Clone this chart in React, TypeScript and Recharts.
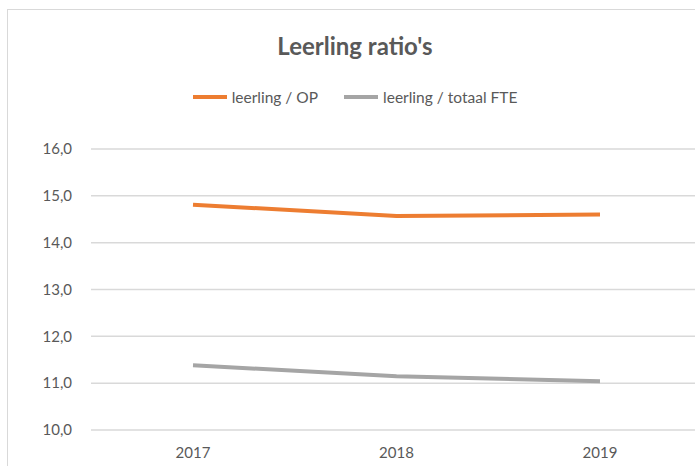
import { LineChart, Line, XAxis, YAxis, CartesianGrid, Legend } from 'recharts';

const years = ['2017', '2018', '2019'];
const leerlingOp = [14.81, 14.57, 14.6];
const leerlingFte = [11.38, 11.15, 11.04];
const yTicks = [10, 11, 12, 13, 14, 15, 16];

const data = years.map((year, i) => ({
  year,
  op: leerlingOp[i],
  fte: leerlingFte[i],
}));

const FONT = 'Lato, "Open Sans", sans-serif';
const TEXT = '#595959';
const TICK_STYLE = { fill: TEXT, fontSize: 15, fontFamily: FONT };

const fmt = (v: number) => v.toFixed(1).replace('.', ',');

function ChartLegend({ payload }: { payload?: { value: string; color: string }[] }) {
  return (
    <div style={{ display: 'flex', justifyContent: 'center', gap: 26, fontFamily: FONT, fontSize: 15.5, color: TEXT }}>
      {(payload ?? []).map((p) => (
        <div key={p.value} style={{ display: 'flex', alignItems: 'center' }}>
          <span style={{ display: 'inline-block', width: 34, height: 4, background: p.color, marginRight: 5 }} />
          <span>{p.value}</span>
        </div>
      ))}
    </div>
  );
}

export default function App() {
  return (
    <div style={{ position: 'absolute', left: 0, top: 0, width: 695, height: 466, overflow: 'hidden', background: '#fff' }}>
      <div style={{ position: 'absolute', left: 7, top: 9, width: 720, height: 480, border: '1px solid #D9D9D9' }} />
      <div
        style={{
          position: 'absolute',
          left: 0,
          top: 31,
          width: 710,
          textAlign: 'center',
          fontFamily: FONT,
          fontWeight: 700,
          fontSize: 24,
          color: TEXT,
        }}
      >
        Leerling ratio's
      </div>
      <LineChart width={712} height={470} data={data} margin={{ top: 131, right: 10, left: 31, bottom: 10 }}>
        <CartesianGrid vertical={false} stroke="#D9D9D9" strokeWidth={1.5} />
        <XAxis
          dataKey="year"
          axisLine={false}
          tickLine={false}
          tick={TICK_STYLE}
          tickMargin={11}
          height={30}
          padding={{ left: 102, right: 102 }}
        />
        <YAxis
          domain={[10, 16]}
          ticks={yTicks}
          tickFormatter={fmt}
          axisLine={false}
          tickLine={false}
          tick={TICK_STYLE}
          tickMargin={13}
          width={60}
        />
        <Legend verticalAlign="top" wrapperStyle={{ top: 88, left: 0, width: 710 }} content={<ChartLegend />} />
        <Line dataKey="op" name="leerling / OP" stroke="#ED7D31" strokeWidth={4} dot={false} isAnimationActive={false} />
        <Line dataKey="fte" name="leerling / totaal FTE" stroke="#A5A5A5" strokeWidth={4} dot={false} isAnimationActive={false} />
      </LineChart>
    </div>
  );
}
